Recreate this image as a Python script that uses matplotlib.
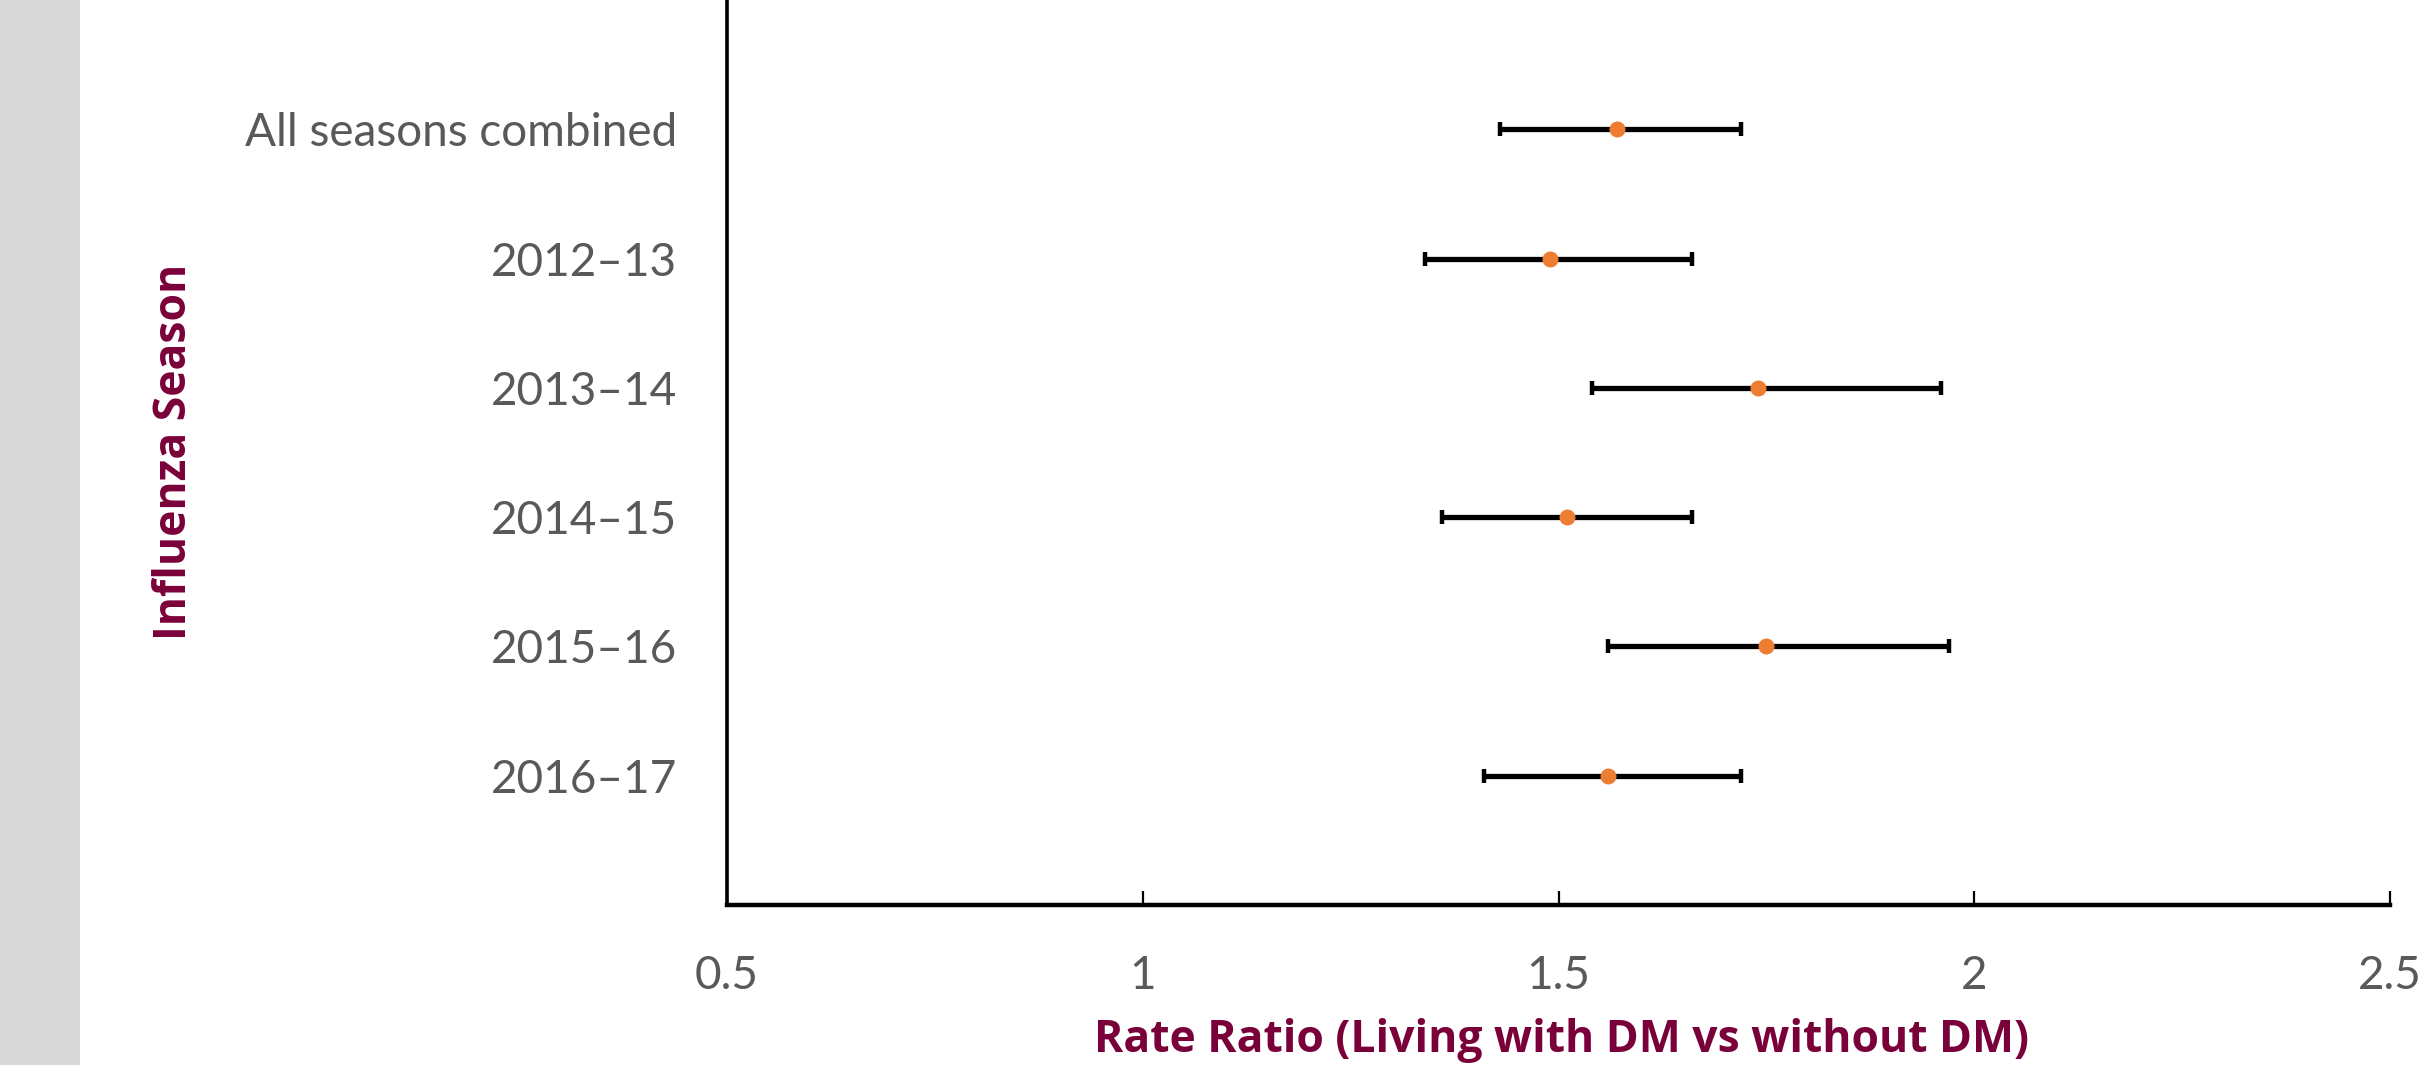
import numpy as np
import matplotlib
matplotlib.use('Agg')
import matplotlib.pyplot as plt
from matplotlib.patches import Rectangle

# Rate ratios with 95% CI
seasons = ['All seasons combined', '2012\u201313', '2013\u201314', '2014\u201315', '2015\u201316', '2016\u201317']
rate_ratio = [1.57, 1.49, 1.74, 1.51, 1.75, 1.56]
ci_low = [1.43, 1.34, 1.54, 1.36, 1.56, 1.41]
ci_high = [1.72, 1.66, 1.96, 1.66, 1.97, 1.72]
xticks = [0.5, 1, 1.5, 2, 2.5]
xticklabels = ['0.5', '1', '1.5', '2', '2.5']

maroon = '#7a0039'
grey_text = '#595959'
orange = '#ed7d31'

fig = plt.figure(figsize=(24.21, 10.65), dpi=100)
# grey strip down the left edge
fig.patches.append(Rectangle((0, 0), 80 / 2421, 1, transform=fig.transFigure,
                             facecolor='#d9d9d9', edgecolor='none', zorder=0))

ax = fig.add_axes([727 / 2421, 160 / 1065, (2390 - 727) / 2421, 905 / 1065])

# top row is "All seasons combined"
ypos = np.arange(len(seasons), 0, -1)
rr = np.array(rate_ratio)
err = [rr - np.array(ci_low), np.array(ci_high) - rr]
ax.errorbar(rr, ypos, xerr=err, fmt='none', ecolor='black', elinewidth=3.8,
            capsize=5, capthick=3.2, zorder=2)
ax.plot(rr, ypos, 'o', color=orange, markersize=11.5, markeredgewidth=0, zorder=3)

ax.set_xlim(0.5, 2.5)
ax.set_ylim(0, 7)
ax.set_xticks(xticks)
ax.set_xticklabels(xticklabels)
ax.set_yticks(ypos)
ax.set_yticklabels(seasons)

for s in ['top', 'right']:
    ax.spines[s].set_visible(False)
ax.spines['left'].set_linewidth(2.6)
ax.spines['bottom'].set_linewidth(3.2)

ax.tick_params(axis='x', direction='in', length=10, width=1.6, pad=36,
               labelsize=33, labelcolor=grey_text)
ax.tick_params(axis='y', length=0, pad=36, labelsize=33, labelcolor=grey_text)
for lab in ax.get_xticklabels() + ax.get_yticklabels():
    lab.set_family('Lato')

fig.text(175 / 2421, 1 - 452 / 1065, 'Influenza Season', rotation=90,
         ha='center', va='center', fontsize=32, fontweight='bold',
         color=maroon, family='Open Sans')
fig.text(1562 / 2421, 1 - 1018 / 1065, 'Rate Ratio (Living with DM vs without DM)',
         ha='center', va='top', fontsize=32, fontweight='bold',
         color=maroon, family='Open Sans')

fig.savefig('out.png', dpi=100)
